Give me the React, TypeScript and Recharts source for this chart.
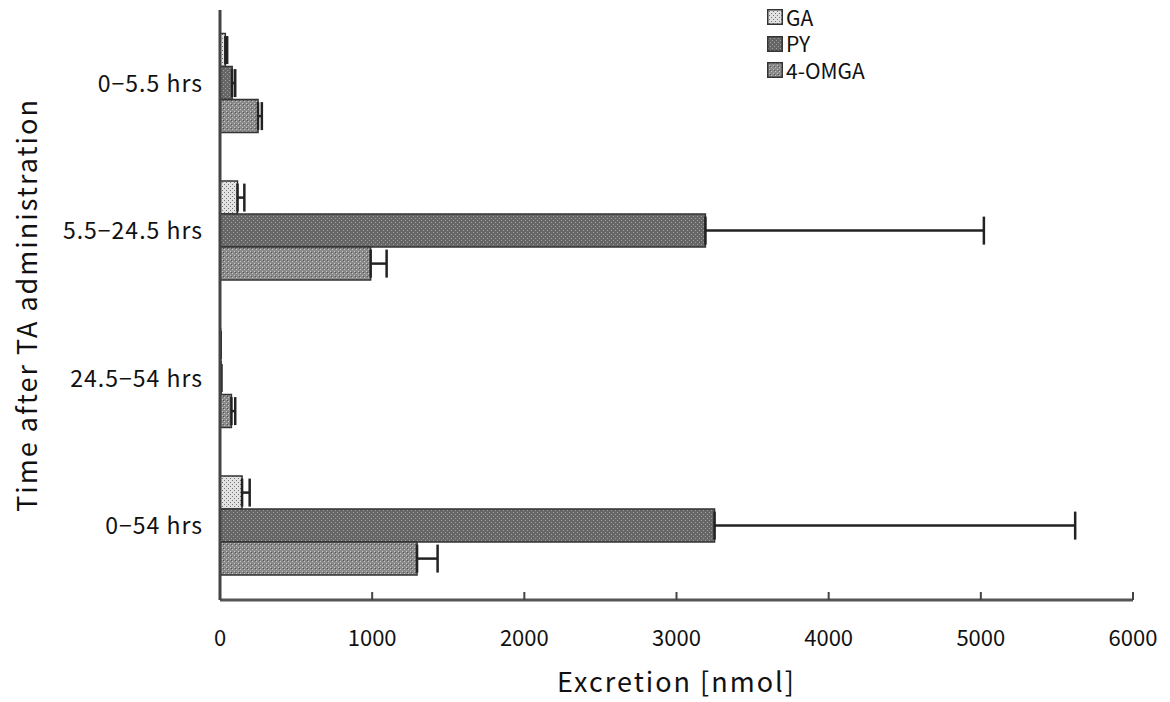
import {
  BarChart,
  Bar,
  XAxis,
  YAxis,
  ErrorBar,
  Legend,
  Label,
} from 'recharts';

// 時間区分(上から順)
const categories = ['0−5.5 hrs', '5.5−24.5 hrs', '24.5−54 hrs', '0−54 hrs'];

const gaValues = [35, 115, 4, 145];
const gaErrors = [12, 45, 0, 50];

const pyValues = [80, 3190, 8, 3250];
const pyErrors = [20, 1830, 0, 2370];

const omgaValues = [250, 990, 75, 1295];
const omgaErrors = [25, 105, 25, 135];

const xTicks = [0, 1000, 2000, 3000, 4000, 5000, 6000];

const seriesNames = ['GA', 'PY', '4-OMGA'];
const patternIds = ['patGA', 'patPY', 'patOMGA'];

const FONT = '"Noto Sans CJK JP", "Noto Sans", sans-serif';

const data = categories.map((period, i) => ({
  period,
  ga: gaValues[i],
  gaErr: [0, gaErrors[i]],
  py: pyValues[i],
  pyErr: [0, pyErrors[i]],
  omga: omgaValues[i],
  omgaErr: [0, omgaErrors[i]],
}));

function Swatch({ id }: { id: string }) {
  return (
    <svg width={16} height={16} style={{ marginRight: 3, flexShrink: 0 }}>
      <rect x={0.75} y={0.75} width={14.5} height={14.5} fill={`url(#${id})`} stroke="#333" strokeWidth={1.5} />
    </svg>
  );
}

function LegendBox() {
  return (
    <div style={{ fontFamily: FONT, fontSize: 21, color: '#111' }}>
      {seriesNames.map((name, i) => (
        <div key={name} style={{ display: 'flex', alignItems: 'center', height: 26.5 }}>
          <Swatch id={patternIds[i]} />
          <span style={{ lineHeight: '21px' }}>{name}</span>
        </div>
      ))}
    </div>
  );
}

function YTitle(props: any) {
  const { viewBox } = props;
  const cx = viewBox.x + 25;
  const cy = viewBox.y + viewBox.height / 2;
  return (
    <text
      x={cx}
      y={cy}
      transform={`rotate(-90, ${cx}, ${cy})`}
      textAnchor="middle"
      dominantBaseline="central"
      fontFamily={FONT}
      fontSize={27}
      letterSpacing={2}
      fill="#111"
    >
      Time after TA administration
    </text>
  );
}

export default function App() {
  return (
    <div style={{ position: 'absolute', left: 0, top: 0, background: '#fff' }}>
      <BarChart
        width={1170}
        height={702}
        data={data}
        layout="vertical"
        margin={{ top: 10, right: 37, bottom: 0, left: 0 }}
        barCategoryGap="16%"
        barGap={0}
      >
        <defs>
          <pattern id="patGA" width={4} height={4} patternUnits="userSpaceOnUse">
            <rect width={4} height={4} fill="#e2e2e2" />
            <rect x={0} y={0} width={1} height={1} fill="#777" />
            <rect x={2} y={2} width={1} height={1} fill="#777" />
          </pattern>
          <pattern id="patPY" width={4} height={4} patternUnits="userSpaceOnUse">
            <rect width={4} height={4} fill="#666" />
            <rect x={1} y={0} width={1} height={1} fill="#a0a0a0" />
            <rect x={3} y={2} width={1} height={1} fill="#a0a0a0" />
          </pattern>
          <pattern id="patOMGA" width={4} height={4} patternUnits="userSpaceOnUse">
            <rect width={4} height={4} fill="#8a8a8a" />
            <rect x={0} y={1} width={1} height={1} fill="#c4c4c4" />
            <rect x={2} y={3} width={1} height={1} fill="#c4c4c4" />
            <rect x={3} y={0} width={1} height={1} fill="#555" />
          </pattern>
        </defs>
        <XAxis
          type="number"
          domain={[0, 6000]}
          ticks={xTicks}
          allowDataOverflow
          height={102}
          tickSize={-8}
          tickMargin={38}
          axisLine={{ stroke: '#555', strokeWidth: 3 }}
          tickLine={{ stroke: '#444', strokeWidth: 2 }}
          tick={{ fill: '#111', fontSize: 22, fontFamily: FONT }}
        >
          <Label
            value="Excretion [nmol]"
            position="insideBottom"
            offset={10}
            style={{ fontFamily: FONT, fontSize: 27, fill: '#111', letterSpacing: 2 }}
          />
        </XAxis>
        <YAxis
          type="category"
          dataKey="period"
          width={220}
          tickLine={false}
          tickSize={0}
          tickMargin={17}
          axisLine={{ stroke: '#444', strokeWidth: 3 }}
          tick={{ fill: '#111', fontSize: 23, fontFamily: FONT, letterSpacing: 1 }}
        >
          <Label content={<YTitle />} />
        </YAxis>
        <Legend
          layout="horizontal"
          verticalAlign="middle"
          align="center"
          content={<LegendBox />}
          wrapperStyle={{ left: 767, top: 4, width: 160 }}
        />
        <Bar dataKey="ga" name="GA" fill="url(#patGA)" stroke="#333" strokeWidth={1.5} isAnimationActive={false}>
          <ErrorBar dataKey="gaErr" direction="x" width={14} stroke="#222" strokeWidth={2.5} />
        </Bar>
        <Bar dataKey="py" name="PY" fill="url(#patPY)" stroke="#333" strokeWidth={1.5} isAnimationActive={false}>
          <ErrorBar dataKey="pyErr" direction="x" width={14} stroke="#222" strokeWidth={2.5} />
        </Bar>
        <Bar dataKey="omga" name="4-OMGA" fill="url(#patOMGA)" stroke="#333" strokeWidth={1.5} isAnimationActive={false}>
          <ErrorBar dataKey="omgaErr" direction="x" width={14} stroke="#222" strokeWidth={2.5} />
        </Bar>
      </BarChart>
    </div>
  );
}
